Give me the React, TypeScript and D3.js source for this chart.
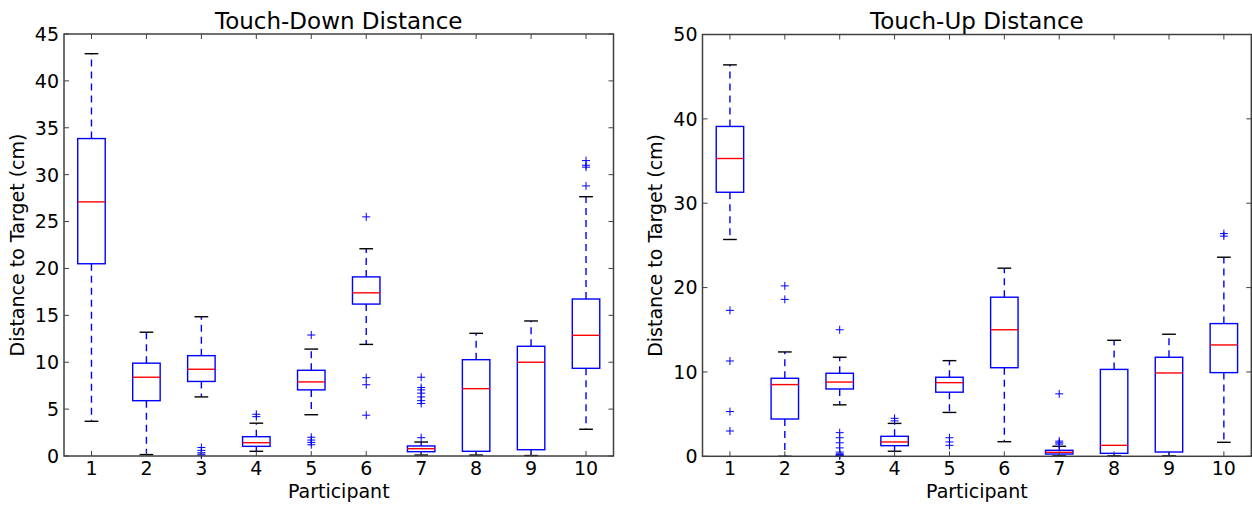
import React from "react";
import * as d3 from "d3";

// ---------- DATA ----------
const participants = ["1", "2", "3", "4", "5", "6", "7", "8", "9", "10"];

// Touch-Down Distance
const tdWhiskerLow = [3.7, 0.15, 6.3, 0.5, 4.4, 11.9, 0.1, 0.1, 0.05, 2.85];
const tdQ1 = [20.5, 5.9, 7.95, 1.03, 7.05, 16.2, 0.46, 0.5, 0.67, 9.35];
const tdMedian = [27.1, 8.4, 9.25, 1.42, 7.9, 17.4, 0.78, 7.18, 10.0, 12.87];
const tdQ3 = [33.85, 9.9, 10.7, 2.06, 9.14, 19.1, 1.07, 10.27, 11.7, 16.74];
const tdWhiskerHigh = [42.9, 13.2, 14.85, 3.5, 11.4, 22.1, 1.49, 13.08, 14.4, 27.65];
const tdOutliers = [
  [],
  [],
  [0.9, 0.6, 0.35, 0.2, 0.1],
  [4.2, 4.45],
  [12.9, 2.0, 1.7, 1.45, 1.2],
  [25.5, 8.35, 7.6, 4.35],
  [8.4, 7.3, 7.05, 6.7, 6.3, 5.9, 5.6, 1.95],
  [],
  [],
  [31.5, 31.0, 30.8, 28.8],
];
const tdTicks = [0, 5, 10, 15, 20, 25, 30, 35, 40, 45];

// Touch-Up Distance
const tuWhiskerLow = [25.7, 0.0, 6.1, 0.6, 5.2, 1.73, 0.05, 0.05, 0.05, 1.66];
const tuQ1 = [31.3, 4.42, 7.98, 1.26, 7.6, 10.5, 0.27, 0.35, 0.51, 9.92];
const tuMedian = [35.3, 8.5, 8.8, 1.7, 8.73, 15.0, 0.47, 1.3, 9.88, 13.2];
const tuQ3 = [39.1, 9.25, 9.84, 2.37, 9.37, 18.86, 0.71, 10.3, 11.74, 15.73];
const tuWhiskerHigh = [46.4, 12.37, 11.74, 3.9, 11.34, 22.3, 1.19, 13.75, 14.47, 23.6];
const tuOutliers = [
  [17.3, 11.3, 5.3, 3.0],
  [20.2, 18.6],
  [15.0, 2.8, 2.2, 1.6, 1.0, 0.5, 0.3, 0.2, 0.1, 0.05],
  [4.5, 4.2],
  [2.2, 1.7, 1.3],
  [],
  [7.4, 1.8, 1.6, 1.45],
  [],
  [],
  [26.4, 26.1],
];
const tuTicks = [0, 10, 20, 30, 40, 50];

const FONT = "DejaVu Sans, sans-serif";
const BLUE = "#0000ff";
const RED = "#ff0000";
const SPINE = "#404040";

type PanelProps = {
  title: string;
  x0: number;
  x1: number;
  y0: number;
  y1: number;
  yMax: number;
  ticks: number[];
  wLo: number[];
  q1: number[];
  med: number[];
  q3: number[];
  wHi: number[];
  outliers: number[][];
  yLabelX: number;
};

function Panel(p: PanelProps) {
  const x = d3
    .scalePoint<string>()
    .domain(participants)
    .range([p.x0, p.x1])
    .padding(0.5);
  const step = x.step();
  const y = d3.scaleLinear().domain([0, p.yMax]).range([p.y1, p.y0]);
  const boxW = step * 0.5;
  const capW = step * 0.25;
  const tickLen = 5;
  const cx = (p.x0 + p.x1) / 2;
  const cy = (p.y0 + p.y1) / 2;

  return (
    <g>
      {/* boxes */}
      {participants.map((c, i) => {
        const xc = x(c)!;
        return (
          <g key={c}>
            <line x1={xc} x2={xc} y1={y(p.q3[i])} y2={y(p.wHi[i])} stroke={BLUE} strokeWidth={1.4} strokeDasharray="7,5" />
            <line x1={xc} x2={xc} y1={y(p.q1[i])} y2={y(p.wLo[i])} stroke={BLUE} strokeWidth={1.4} strokeDasharray="7,5" />
            <line x1={xc - capW / 2} x2={xc + capW / 2} y1={y(p.wHi[i])} y2={y(p.wHi[i])} stroke="#000" strokeWidth={1.4} />
            <line x1={xc - capW / 2} x2={xc + capW / 2} y1={y(p.wLo[i])} y2={y(p.wLo[i])} stroke="#000" strokeWidth={1.4} />
            <rect x={xc - boxW / 2} y={y(p.q3[i])} width={boxW} height={y(p.q1[i]) - y(p.q3[i])} fill="none" stroke={BLUE} strokeWidth={1.4} />
            <line x1={xc - boxW / 2} x2={xc + boxW / 2} y1={y(p.med[i])} y2={y(p.med[i])} stroke={RED} strokeWidth={1.4} />
            {p.outliers[i].map((v, j) => (
              <g key={j} stroke={BLUE} strokeWidth={1}>
                <line x1={xc - 4} x2={xc + 4} y1={y(v)} y2={y(v)} />
                <line x1={xc} x2={xc} y1={y(v) - 4} y2={y(v) + 4} />
              </g>
            ))}
          </g>
        );
      })}
      {/* ticks */}
      {p.ticks.map((t) => (
        <g key={t}>
          <line x1={p.x0} x2={p.x0 + tickLen} y1={y(t)} y2={y(t)} stroke={SPINE} strokeWidth={1} />
          <line x1={p.x1} x2={p.x1 - tickLen} y1={y(t)} y2={y(t)} stroke={SPINE} strokeWidth={1} />
          <text x={p.x0 - 5} y={y(t)} dy="0.36em" textAnchor="end" fontFamily={FONT} fontSize={19} fill="#000">
            {t}
          </text>
        </g>
      ))}
      {participants.map((c) => (
        <g key={c}>
          <line x1={x(c)} x2={x(c)} y1={p.y1} y2={p.y1 - tickLen} stroke={SPINE} strokeWidth={1} />
          <line x1={x(c)} x2={x(c)} y1={p.y0} y2={p.y0 + tickLen} stroke={SPINE} strokeWidth={1} />
          <text x={x(c)} y={475} textAnchor="middle" fontFamily={FONT} fontSize={19} fill="#000">
            {c}
          </text>
        </g>
      ))}
      {/* frame */}
      <rect x={p.x0} y={p.y0} width={p.x1 - p.x0} height={p.y1 - p.y0} fill="none" stroke={SPINE} strokeWidth={1.5} />
      {/* labels */}
      <text x={cx} y={29} textAnchor="middle" fontFamily={FONT} fontSize={23} fill="#000">
        {p.title}
      </text>
      <text x={cx} y={498} textAnchor="middle" fontFamily={FONT} fontSize={19} fill="#000">
        Participant
      </text>
      <text
        transform={`translate(${p.yLabelX},${cy}) rotate(-90)`}
        textAnchor="middle"
        fontFamily={FONT}
        fontSize={19}
        fill="#000"
      >
        Distance to Target (cm)
      </text>
    </g>
  );
}

export default function App() {
  return (
    <svg
      width={1252}
      height={506}
      style={{ position: "absolute", left: 0, top: 0, background: "#fff" }}
    >
      <rect x={0} y={0} width={1252} height={506} fill="#fff" />
      <Panel
        title="Touch-Down Distance"
        x0={64}
        x1={613.5}
        y0={34}
        y1={456}
        yMax={45}
        ticks={tdTicks}
        wLo={tdWhiskerLow}
        q1={tdQ1}
        med={tdMedian}
        q3={tdQ3}
        wHi={tdWhiskerHigh}
        outliers={tdOutliers}
        yLabelX={24}
      />
      <Panel
        title="Touch-Up Distance"
        x0={702.5}
        x1={1251.3}
        y0={34.5}
        y1={456.3}
        yMax={50}
        ticks={tuTicks}
        wLo={tuWhiskerLow}
        q1={tuQ1}
        med={tuMedian}
        q3={tuQ3}
        wHi={tuWhiskerHigh}
        outliers={tuOutliers}
        yLabelX={662}
      />
    </svg>
  );
}
